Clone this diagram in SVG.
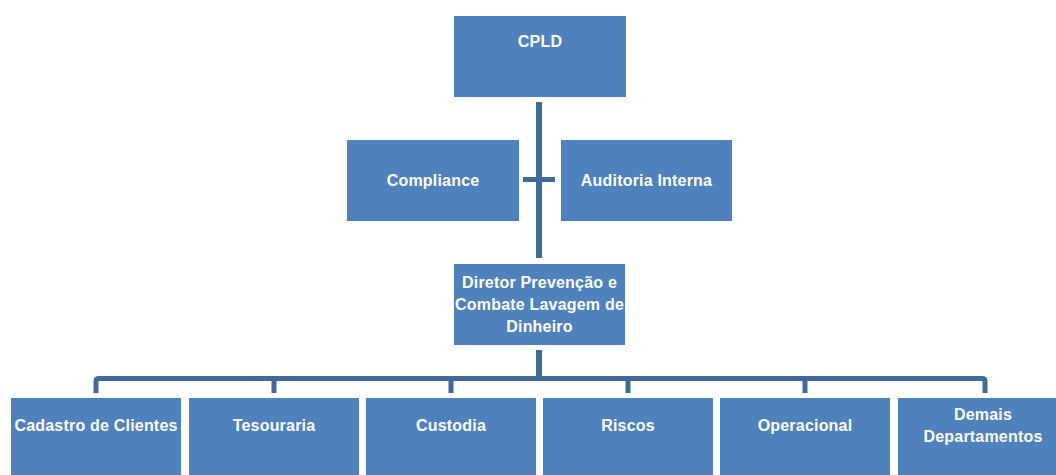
<svg xmlns="http://www.w3.org/2000/svg" width="1056" height="475" viewBox="0 0 1056 475">
<style>
.box{fill:#4F81BD;}
.lbl{font-family:"Liberation Sans",Arial,sans-serif;font-weight:bold;font-size:16px;letter-spacing:0.2px;fill:#FFFFFF;text-anchor:middle;}
.ln{stroke:#41699A;fill:none;stroke-linejoin:round;}
</style>
<rect width="1056" height="475" fill="#FFFFFF"/>
<g id="connectors">
<line class="ln" x1="539" y1="102" x2="539" y2="258" stroke-width="6"/>
<line class="ln" x1="523" y1="179.5" x2="555" y2="179.5" stroke-width="5"/>
<line class="ln" x1="539" y1="350" x2="539" y2="378" stroke-width="6"/>
<path class="ln" stroke-width="5" d="M96 393 V381 Q96 378.5 99 378.5 H982 Q985 378.5 985 381 V393"/>
<line class="ln" x1="274" y1="378" x2="274" y2="393" stroke-width="5"/>
<line class="ln" x1="451" y1="378" x2="451" y2="393" stroke-width="5"/>
<line class="ln" x1="628" y1="378" x2="628" y2="393" stroke-width="5"/>
<line class="ln" x1="805" y1="378" x2="805" y2="393" stroke-width="5"/>
</g>
<g id="cpld"><rect class="box" x="454" y="16" width="172" height="81"/><text class="lbl" x="540" y="47">CPLD</text></g>
<g id="compliance"><rect class="box" x="347" y="140" width="172" height="81"/><text class="lbl" x="433" y="186">Compliance</text></g>
<g id="auditoria"><rect class="box" x="561" y="140" width="171" height="81"/><text class="lbl" x="646.5" y="186">Auditoria Interna</text></g>
<g id="diretor"><rect class="box" x="454" y="264" width="171" height="81"/>
<text class="lbl" x="539.5" y="288">Diretor Prevenção e</text>
<text class="lbl" x="539.5" y="310">Combate Lavagem de</text>
<text class="lbl" x="539.5" y="332">Dinheiro</text></g>
<g id="cadastro"><rect class="box" x="11" y="398" width="170" height="82"/><text class="lbl" x="96" y="431">Cadastro de Clientes</text></g>
<g id="tesouraria"><rect class="box" x="189" y="398" width="170" height="82"/><text class="lbl" x="274" y="431">Tesouraria</text></g>
<g id="custodia"><rect class="box" x="366" y="398" width="170" height="82"/><text class="lbl" x="451" y="431">Custodia</text></g>
<g id="riscos"><rect class="box" x="543" y="398" width="170" height="82"/><text class="lbl" x="628" y="431">Riscos</text></g>
<g id="operacional"><rect class="box" x="720" y="398" width="170" height="82"/><text class="lbl" x="805" y="431">Operacional</text></g>
<g id="demais"><rect class="box" x="898" y="398" width="170" height="82"/>
<text class="lbl" x="983" y="420">Demais</text>
<text class="lbl" x="983" y="442">Departamentos</text></g>
</svg>
